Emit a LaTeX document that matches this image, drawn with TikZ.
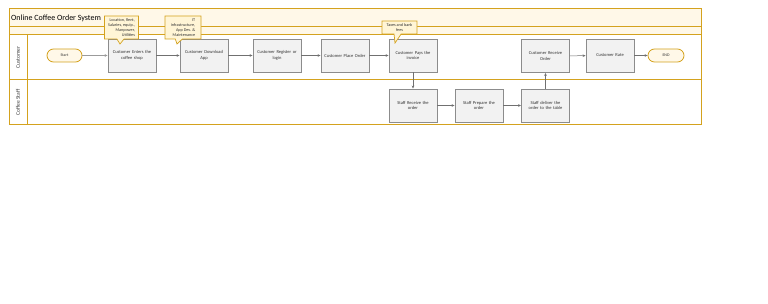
\documentclass[tikz,border=0pt]{standalone}
\usepackage{fontspec}
\setmainfont{Carlito}
\usetikzlibrary{arrows.meta,shapes.callouts}
\newcommand\mynohyph{\hyphenpenalty=10000\relax}
\definecolor{gold}{HTML}{D4A21E}
\definecolor{cream}{HTML}{FFF8E8}
\definecolor{callfill}{HTML}{FFF5D6}
\definecolor{boxfill}{HTML}{F2F2F2}
\definecolor{boxline}{HTML}{8C8C8C}
\definecolor{arrowc}{HTML}{707070}
\tikzset{
  stepbox/.style={draw=boxline, line width=0.9pt, fill=boxfill, minimum width=48pt, minimum height=33pt, text width=47pt, align=center, font={\fontsize{4.5}{5.6}\selectfont\mynohyph}, inner sep=0pt, text=black!80},
  term/.style={draw=gold, line width=0.8pt, fill=cream, rounded corners=6.5pt, minimum width=35pt, minimum height=13pt, inner sep=0pt, font=\fontsize{4}{4.5}\selectfont, text=black!80},
  note/.style={rectangle callout, draw=gold, line width=0.7pt, fill=callfill, inner sep=1pt, font={\fontsize{4.2}{5}\selectfont\mynohyph}, text=black!80},
  flow/.style={draw=arrowc, line width=0.5pt, -{Stealth[length=3pt,width=2.6pt]}},
  lanel/.style={rotate=90, font=\fontsize{5.6}{6.5}\selectfont, text=black!75},
  poolline/.style={draw=gold, line width=1pt}
}
\begin{document}
\begin{tikzpicture}[x=1pt,y=-1pt]
\useasboundingbox[fill=white] (0,0) rectangle (768,304);
% pool
\fill[cream] (9,9) rectangle (701,35);
\draw[poolline] (9,27) -- (701,27);
\draw[poolline] (9,35) -- (701,35);
\draw[poolline] (9,80) -- (701,80);
\draw[poolline] (27,35) -- (27,125);
\draw[poolline] (9,9) rectangle (701,125);
\node[anchor=west, font=\fontsize{8}{9}\selectfont, inner sep=0pt] (title) at (11,18) {Online Coffee Order System};
\node[lanel] (lcust) at (18,57.5) {Customer};
\node[lanel] (lstaff) at (18,102.5) {Coffee Staff};
% nodes
\node[term] (start) at (64.5,55.5) {Start};
\node[stepbox] (enters) at (132,55.5) {Customer Enters the\\coffee shop};
\node[stepbox] (download) at (204,55.5) {Customer Download\\App};
\node[stepbox] (register) at (277,55.5) {Customer Register or\\login};
\node[stepbox] (place) at (345,55.5) {Customer Place Order};
\node[stepbox] (pays) at (413,55.5) {Customer Pays the\\invoice};
\node[stepbox] (sreceive) at (413,105.5) {Staff Receive the\\order};
\node[stepbox] (sprepare) at (479,105.5) {Staff Prepare the\\order};
\node[stepbox] (sdeliver) at (545.5,105.5) {Staff deliver the\\order to the table};
\node[stepbox] (creceive) at (545.5,56) {Customer Receive\\Order};
\node[stepbox] (rate) at (610,55.5) {Customer Rate};
\node[term, minimum width=36pt] (end) at (666,55.5) {END};
% callouts
\node[note, minimum width=34pt, minimum height=23pt, align=right, callout absolute pointer={(120,44)}] (n1) at (121.5,27.5) {Location, Rent,\\Salaries, equip.,\\Manpower,\\Utilities};
\node[note, minimum width=36pt, minimum height=23pt, align=right, callout absolute pointer={(177,44)}] (n2) at (183,27.5) {IT\\infrastructure,\\App Dev. \&\\Maintenance};
\node[note, minimum width=35pt, minimum height=13pt, align=center, callout absolute pointer={(395,43)}] (n3) at (399.5,27.5) {Taxes and bank\\fees};
% connectors
\draw[flow, line width=0.4pt, draw=arrowc!70] (start) -- (enters);
\draw[flow] (enters) -- (download);
\draw[flow] (download) -- (register);
\draw[flow] (register) -- (place);
\draw[flow] (place) -- (pays);
\draw[flow] (pays) -- (sreceive);
\draw[flow] (sreceive) -- (sprepare);
\draw[flow] (sprepare) -- (sdeliver);
\draw[flow] (sdeliver) -- (creceive);
\draw[flow] (creceive) -- (rate);
\draw[flow] (rate) -- (end);
\end{tikzpicture}
\end{document}
